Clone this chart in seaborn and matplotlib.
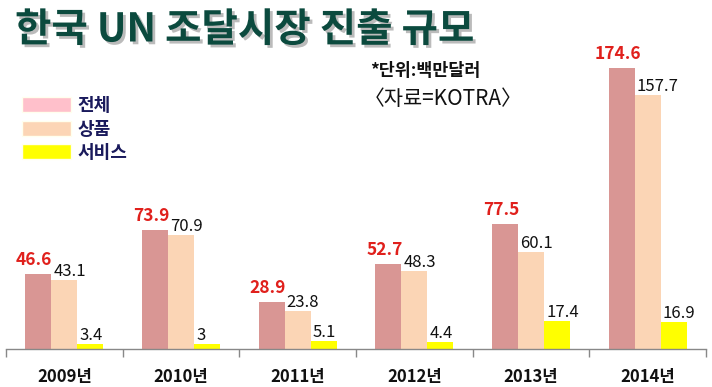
"""
한국 UN 조달시장 진출 규모 막대그래프
"""

import numpy as np
import pandas as pd
import matplotlib
matplotlib.use('Agg')
import matplotlib.pyplot as plt
import matplotlib.patheffects as pe
from matplotlib.patches import Patch
import seaborn as sns

years = ['2009년', '2010년', '2011년', '2012년', '2013년', '2014년']
series_names = ['전체', '상품', '서비스']
total = [46.6, 73.9, 28.9, 52.7, 77.5, 174.6]
goods = [43.1, 70.9, 23.8, 48.3, 60.1, 157.7]
services = [3.4, 3, 5.1, 4.4, 17.4, 16.9]

bar_colors = ['#d99694', '#fbd5b5', '#ffff00']
legend_colors = ['#ffc0cb', '#fcd5b5', '#ffff00']

sns.set_theme(style='white')
plt.rcParams['font.family'] = ['Noto Sans CJK KR', 'DejaVu Sans']

df = pd.DataFrame({
    'year': years * 3,
    'series': np.repeat(series_names, len(years)),
    'value': total + goods + services,
})

fig = plt.figure(figsize=(7.12, 3.87), dpi=100)
ax = fig.add_axes([6 / 712, 38 / 387, 700 / 712, 322 / 387])

sns.barplot(data=df, x='year', y='value', hue='series', hue_order=series_names,
            palette=bar_colors, width=0.67, gap=0, saturation=1,
            linewidth=0, legend=False, ax=ax)

ax.set_ylim(0, 200)
ax.set_xlim(-0.5, len(years) - 0.5)
ax.set_xlabel('')
ax.set_ylabel('')
ax.set_yticks([])
for side in ['top', 'right', 'left']:
    ax.spines[side].set_visible(False)
ax.spines['bottom'].set_color('#888888')
ax.spines['bottom'].set_linewidth(1)

# 그룹 경계 눈금
ax.set_xticks(np.arange(-0.5, len(years)), minor=True)
ax.tick_params(axis='x', which='minor', length=6, color='#888888', width=1, bottom=True)
ax.tick_params(axis='x', which='major', length=0, pad=14, labelsize=12)
for lbl in ax.get_xticklabels():
    lbl.set_fontweight('bold')
    lbl.set_color('#111111')

# 데이터 레이블
for bar, v in zip(ax.containers[0], total):
    ax.annotate(f'{v:g}', (bar.get_x() + bar.get_width() / 2, bar.get_height()),
                xytext=(-4, 5), textcoords='offset pixels', ha='center', va='bottom',
                fontsize=12.5, fontweight='bold', color='#e0201c')
for cont, vals in zip(ax.containers[1:], [goods, services]):
    for bar, v in zip(cont, vals):
        ax.annotate(f'{v:g}', (bar.get_x(), bar.get_height()),
                    xytext=(2, 0), textcoords='offset pixels', ha='left', va='bottom',
                    fontsize=12, color='#111111')

# 제목
fig.text(15 / 712, 1 - 30 / 387, '한국 UN 조달시장 진출 규모', fontsize=28.5,
         fontweight='bold', color='#0b4a3e', va='center', ha='left',
         path_effects=[pe.withSimplePatchShadow(offset=(2, -2), shadow_rgbFace='#bbbbbb', alpha=1)])

fig.text(370 / 712, 1 - 71 / 387, '*단위:백만달러', fontsize=12.5, fontweight='bold',
         color='#111111', va='center', ha='left')
fig.text(364 / 712, 1 - 99 / 387, '〈자료=KOTRA〉', fontsize=15,
         color='#111111', va='center', ha='left')

handles = [Patch(facecolor=c, edgecolor='#ffffee') for c in legend_colors]
leg = fig.legend(handles, series_names, loc='upper left',
                 bbox_to_anchor=(22 / 712, 1 - 96 / 387), frameon=False,
                 borderpad=0, borderaxespad=0,
                 fontsize=13, handlelength=2.7, handleheight=0.9,
                 labelspacing=0.25, handletextpad=0.35)
for t in leg.get_texts():
    t.set_fontweight('bold')
    t.set_color('#1a1a5c')

plt.savefig('out.png', dpi=100)
plt.close()
